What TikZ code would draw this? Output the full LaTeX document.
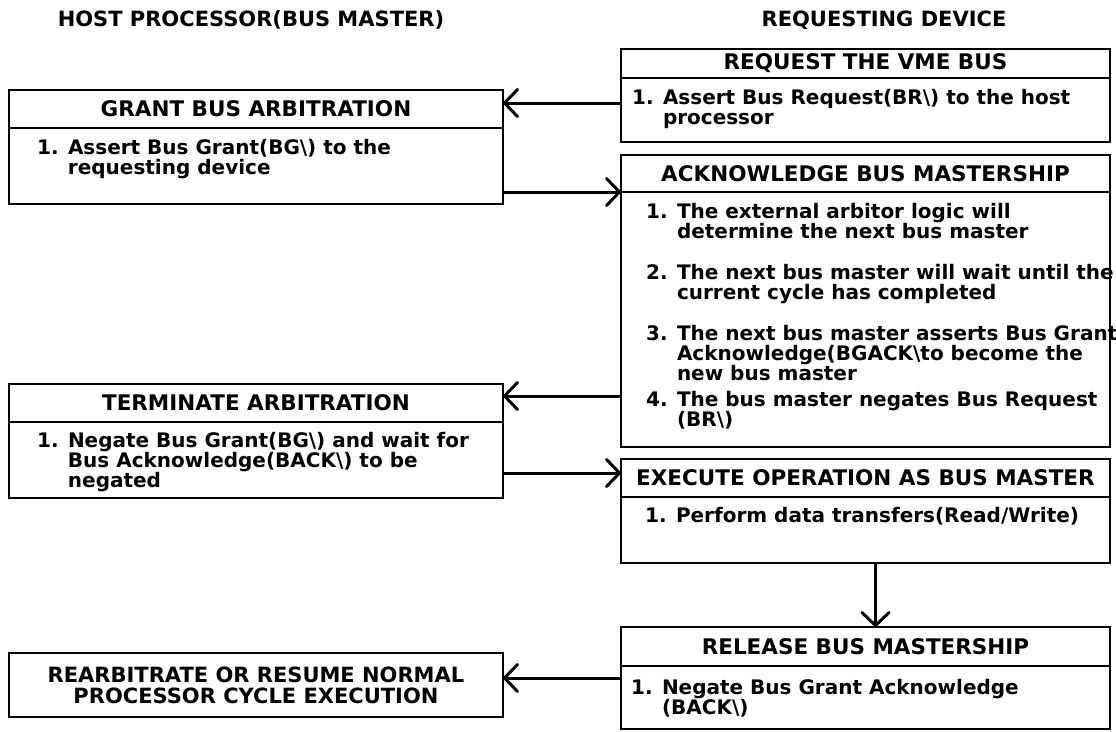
\documentclass[tikz,border=0pt]{standalone}
\usepackage{fontspec}
\setmainfont{DejaVu Sans}
\usetikzlibrary{arrows.meta}

\newcommand{\itemfont}{\fontsize{20}{20}\selectfont\bfseries}
\newcommand{\headfont}{\fontsize{21.5}{21}\selectfont\bfseries}
\newcommand{\titlefont}{\fontsize{21}{24}\selectfont\bfseries}
\newcommand{\skipnum}{\hphantom{1. }}

\tikzset{
  title/.style={inner sep=0pt, font=\titlefont},
  head/.style={draw, rectangle, line width=1.8pt, inner sep=0pt, outer sep=0pt, anchor=north west, font=\headfont},
  body/.style={draw, rectangle, line width=1.8pt, inner sep=0pt, outer sep=0pt, anchor=north west},
  lcol/.style={minimum width=494pt},
  rcol/.style={minimum width=489pt},
  txt/.style={anchor=north west, inner sep=0pt, align=left, font=\itemfont},
  flow/.style={line width=3pt, -{Straight Barb[length=13pt, width=27pt, line width=3pt, round]}},
}

\begin{document}
\begin{tikzpicture}[x=1pt,y=-1pt]
        \useasboundingbox (0,0) rectangle (1116,731);
        % Titles
        \node[title] (host) at (251,20) {HOST PROCESSOR(BUS MASTER)};
        \node[title] (reqdev) at (884,20) {REQUESTING DEVICE};
        % Request the VME bus
        \node[head, rcol, minimum height=29pt] (req) at (621,49) {REQUEST THE VME BUS};
        \node[body, rcol, minimum height=64pt] (reqbody) at (req.south west) {};
        \node[txt] (reqtxt) at (632,89) {1. Assert Bus Request(BR\textbackslash) to the host\\\skipnum processor};
        % Grant bus arbitration
        \node[head, lcol, minimum height=38pt] (grant) at (9,90) {GRANT BUS ARBITRATION};
        \node[body, lcol, minimum height=76pt] (grantbody) at (grant.south west) {};
        \node[txt] (granttxt) at (37,139) {1. Assert Bus Grant(BG\textbackslash) to the\\\skipnum requesting device};
        % Acknowledge bus mastership
        \node[head, rcol, minimum height=37pt] (ack) at (621,155) {ACKNOWLEDGE BUS MASTERSHIP};
        \node[body, rcol, minimum height=255pt] (ackbody) at (ack.south west) {};
        \node[txt] (acktxt) at (646,203) {1. The external arbitor logic will\\
          \skipnum determine the next bus master\\[21pt]
          2. The next bus master will wait until the\\
          \skipnum current cycle has completed\\[21pt]
          3. The next bus master asserts Bus Grant\\
          \skipnum Acknowledge(BGACK\textbackslash to become the\\
          \skipnum new bus master\\[6pt]
          4. The bus master negates Bus Request\\
          \skipnum (BR\textbackslash)};
        % Terminate arbitration
        \node[head, lcol, minimum height=38pt] (term) at (9,384) {TERMINATE ARBITRATION};
        \node[body, lcol, minimum height=76pt] (termbody) at (term.south west) {};
        \node[txt] (termtxt) at (37,432) {1. Negate Bus Grant(BG\textbackslash) and wait for\\
          \skipnum Bus Acknowledge(BACK\textbackslash) to be\\
          \skipnum negated};
        % Execute operation
        \node[head, rcol, minimum height=38pt] (exec) at (621,459) {EXECUTE OPERATION AS BUS MASTER};
        \node[body, rcol, minimum height=66pt] (execbody) at (exec.south west) {};
        \node[txt] (exectxt) at (645,507) {1. Perform data transfers(Read/Write)};
        % Release bus mastership
        \node[head, rcol, minimum height=39pt] (rel) at (621,627) {RELEASE BUS MASTERSHIP};
        \node[body, rcol, minimum height=63pt] (relbody) at (rel.south west) {};
        \node[txt] (reltxt) at (631,679) {1. Negate Bus Grant Acknowledge\\\skipnum (BACK\textbackslash)};
        % Rearbitrate
        \node[head, lcol, minimum height=64pt, align=center, font=\fontsize{21}{21}\selectfont\bfseries] (rearb) at (9,653) {REARBITRATE OR RESUME NORMAL\\PROCESSOR CYCLE EXECUTION};
        % Arrows
        \coordinate (a1) at ([yshift=7pt]reqbody.west);
        \draw[flow] (a1) -- (a1 -| grant.east);
        \draw[flow] (grantbody.east |- ackbody.north) -- (ackbody.north west);
        \coordinate (a3) at ([yshift=7pt]term.east);
        \draw[flow] (ackbody.west |- a3) -- (a3);
        \coordinate (a4) at ([yshift=5pt]exec.west);
        \draw[flow] (termbody.east |- a4) -- (a4);
        \coordinate (a5) at ([xshift=10pt]rel.north);
        \draw[flow, line width=2.4pt] (execbody.south -| a5) -- (a5);
        \coordinate (a6) at ([yshift=7pt]rearb.east);
        \draw[flow] (relbody.west |- a6) -- (a6);
\end{tikzpicture}
\end{document}
